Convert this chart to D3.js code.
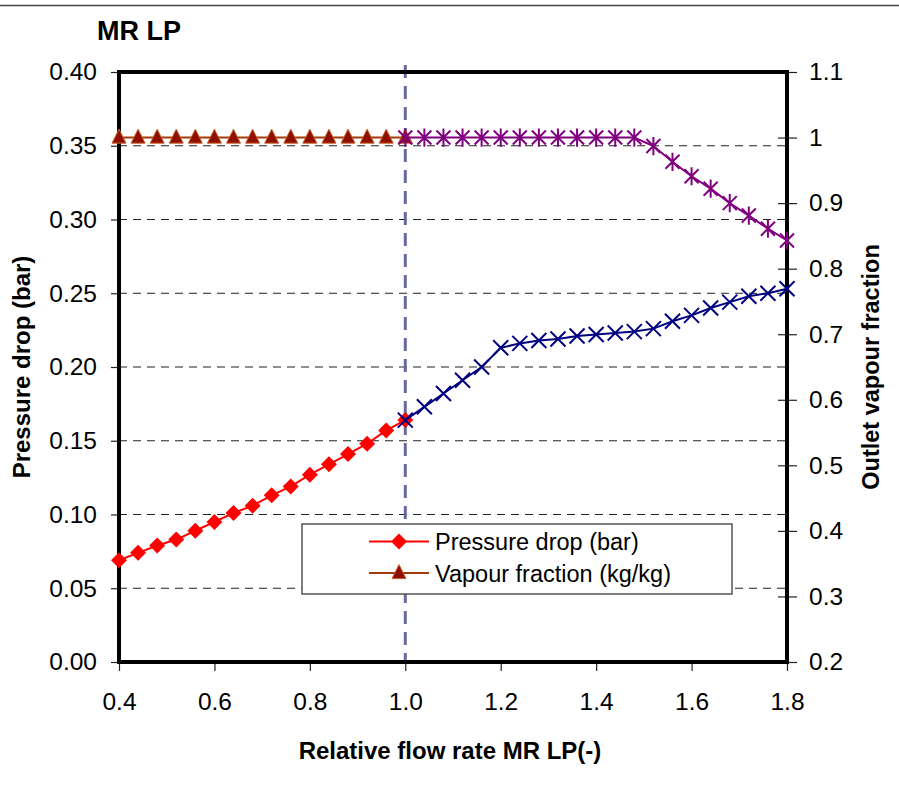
<!DOCTYPE html>
<html>
<head>
<meta charset="utf-8">
<script src="https://cdn.jsdelivr.net/npm/d3@7"></script>
<style>
  html, body { margin: 0; padding: 0; background: #fff; }
  svg { display: block; font-family: "Liberation Sans", Arial, sans-serif; }
</style>
</head>
<body>
<svg id="chart" width="899" height="786"></svg>
<script>
// Relative flow rate, lower branch (up to design point) and upper branch
const flowLow  = [0.40, 0.44, 0.48, 0.52, 0.56, 0.60, 0.64, 0.68, 0.72, 0.76, 0.80, 0.84, 0.88, 0.92, 0.96, 1.00];
const flowHigh = [1.00, 1.04, 1.08, 1.12, 1.16, 1.20, 1.24, 1.28, 1.32, 1.36, 1.40, 1.44, 1.48, 1.52, 1.56, 1.60, 1.64, 1.68, 1.72, 1.76, 1.80];

// Pressure drop (bar)
const pressureLow  = [0.069, 0.074, 0.079, 0.083, 0.089, 0.095, 0.101, 0.106, 0.113, 0.119, 0.127, 0.134, 0.141, 0.148, 0.157, 0.164];
const pressureHigh = [0.164, 0.173, 0.182, 0.191, 0.200, 0.213, 0.216, 0.218, 0.219, 0.221, 0.222, 0.223, 0.224, 0.226, 0.231, 0.235, 0.240, 0.244, 0.248, 0.250, 0.253];

// Outlet vapour fraction (kg/kg)
const vapourLow  = [1, 1, 1, 1, 1, 1, 1, 1, 1, 1, 1, 1, 1, 1, 1, 1];
const vapourHigh = [1, 1, 1, 1, 1, 1, 1, 1, 1, 1, 1, 1, 1, 0.987, 0.963, 0.941, 0.922, 0.900, 0.881, 0.861, 0.843];

// Axis ticks
const xTicks = [0.4, 0.6, 0.8, 1.0, 1.2, 1.4, 1.6, 1.8];
const xTickLabels = ["0.4", "0.6", "0.8", "1.0", "1.2", "1.4", "1.6", "1.8"];
const leftTicks = [0.00, 0.05, 0.10, 0.15, 0.20, 0.25, 0.30, 0.35, 0.40];
const leftTickLabels = ["0.00", "0.05", "0.10", "0.15", "0.20", "0.25", "0.30", "0.35", "0.40"];
const rightTicks = [0.2, 0.3, 0.4, 0.5, 0.6, 0.7, 0.8, 0.9, 1.0, 1.1];
const rightTickLabels = ["0.2", "0.3", "0.4", "0.5", "0.6", "0.7", "0.8", "0.9", "1", "1.1"];
const designFlow = 1.0;

const legendItems = ["Pressure drop (bar)", "Vapour fraction (kg/kg)"];

const svg = d3.select("#chart");
const L = 119, R = 787, T = 72, B = 662;

const x  = d3.scaleLinear().domain([0.4, 1.8]).range([L, R]);
const yL = d3.scaleLinear().domain([0, 0.4]).range([B, T]);
const yR = d3.scaleLinear().domain([0.2, 1.1]).range([B, T]);

// top rule across the figure
svg.append("line").attr("x1", 0).attr("x2", 899).attr("y1", 5.5).attr("y2", 5.5)
  .attr("stroke", "#444").attr("stroke-width", 1.5);

// title
svg.append("text").attr("x", 97).attr("y", 40)
  .attr("font-size", 27).attr("font-weight", "bold").text("MR LP");

// horizontal dashed gridlines
svg.append("g").selectAll("line")
  .data(leftTicks.filter(v => v > 0 && v < 0.4))
  .join("line")
  .attr("x1", L).attr("x2", R)
  .attr("y1", d => yL(d)).attr("y2", d => yL(d))
  .attr("stroke", "#222").attr("stroke-width", 1.1)
  .attr("stroke-dasharray", "8,6");

// axes
const fmtFrom = (ticks, labels) => d => labels[ticks.indexOf(d)];

const gLeft = svg.append("g").attr("transform", `translate(${L},0)`)
  .call(d3.axisLeft(yL).tickValues(leftTicks).tickSize(8).tickPadding(14)
    .tickFormat(fmtFrom(leftTicks, leftTickLabels)));

const gRight = svg.append("g").attr("transform", `translate(${R},0)`)
  .call(d3.axisRight(yR).tickValues(rightTicks).tickSize(10).tickPadding(12)
    .tickFormat(fmtFrom(rightTicks, rightTickLabels)));
gRight.selectAll(".tick").append("line")
  .attr("x1", -9).attr("x2", 0).attr("stroke", "#000");

const gBottom = svg.append("g").attr("transform", `translate(0,${B})`)
  .call(d3.axisBottom(x).tickValues(xTicks).tickSize(9).tickPadding(22)
    .tickFormat(fmtFrom(xTicks, xTickLabels)));

[gLeft, gRight, gBottom].forEach(g => {
  g.select(".domain").remove();
  g.selectAll(".tick line").attr("stroke", "#222").attr("stroke-width", 1.2);
  g.selectAll(".tick text").attr("font-size", 24.5).attr("fill", "#000")
    .style("font-family", "'Liberation Sans', Arial, sans-serif");
});

// design-point marker line
svg.append("line")
  .attr("x1", x(designFlow)).attr("x2", x(designFlow))
  .attr("y1", T - 7).attr("y2", B)
  .attr("stroke", "#6868a0").attr("stroke-width", 3)
  .attr("stroke-dasharray", "13,8");

// plot frame
svg.append("rect").attr("x", L).attr("y", T)
  .attr("width", R - L).attr("height", B - T)
  .attr("fill", "none").attr("stroke", "#000").attr("stroke-width", 4);

// axis titles
svg.append("text")
  .attr("transform", `translate(30,${(T + B) / 2}) rotate(-90)`)
  .attr("text-anchor", "middle").attr("font-size", 24).attr("font-weight", "bold")
  .text("Pressure drop (bar)");
svg.append("text")
  .attr("transform", `translate(879,${(T + B) / 2}) rotate(-90)`)
  .attr("text-anchor", "middle").attr("font-size", 23.5).attr("font-weight", "bold")
  .text("Outlet vapour fraction");
svg.append("text")
  .attr("x", 450).attr("y", 759)
  .attr("text-anchor", "middle").attr("font-size", 24).attr("font-weight", "bold")
  .text("Relative flow rate MR LP(-)");

// marker shapes
const diamondPath = s => `M0,${-s}L${s},0L0,${s}L${-s},0Z`;
const trianglePath = (w, h) => `M0,${-h * 0.6}L${w / 2},${h * 0.4}L${-w / 2},${h * 0.4}Z`;
const crossPath = s => `M${-s},${-s}L${s},${s}M${-s},${s}L${s},${-s}`;
const starPath = s => `M${-s},${-s}L${s},${s}M${-s},${s}L${s},${-s}M0,${-s * 1.3}L0,${s * 1.3}`;

function drawSeries(xs, ys, yScale, color, width) {
  const pts = xs.map((v, i) => [x(v), yScale(ys[i])]);
  svg.append("path").datum(pts)
    .attr("d", d3.line())
    .attr("fill", "none").attr("stroke", color).attr("stroke-width", width);
  return pts;
}

// vapour fraction, lower branch (triangles)
const vLowPts = drawSeries(flowLow, vapourLow, yR, "#a33a0a", 2);
svg.append("g").selectAll("path").data(vLowPts).join("path")
  .attr("transform", d => `translate(${d[0]},${d[1]})`)
  .attr("d", trianglePath(14, 14))
  .attr("fill", "#8f0f00").attr("stroke", "#c8602a").attr("stroke-width", 1);

// vapour fraction, upper branch (asterisks)
const vHighPts = drawSeries(flowHigh, vapourHigh, yR, "#800080", 2);
svg.append("g").selectAll("path").data(vHighPts).join("path")
  .attr("transform", d => `translate(${d[0]},${d[1]})`)
  .attr("d", starPath(7))
  .attr("fill", "none").attr("stroke", "#800080").attr("stroke-width", 2);

// pressure drop, lower branch (diamonds)
const pLowPts = drawSeries(flowLow, pressureLow, yL, "#ff0000", 2);
svg.append("g").selectAll("path").data(pLowPts).join("path")
  .attr("transform", d => `translate(${d[0]},${d[1]})`)
  .attr("d", diamondPath(8))
  .attr("fill", "#ff0000");

// pressure drop, upper branch (crosses)
const pHighPts = drawSeries(flowHigh, pressureHigh, yL, "#000080", 2);
svg.append("g").selectAll("path").data(pHighPts).join("path")
  .attr("transform", d => `translate(${d[0]},${d[1]})`)
  .attr("d", crossPath(7.5))
  .attr("fill", "none").attr("stroke", "#000080").attr("stroke-width", 2);

// legend
const lg = svg.append("g");
lg.append("rect").attr("x", 302).attr("y", 524).attr("width", 430).attr("height", 70)
  .attr("fill", "#fff").attr("stroke", "#555").attr("stroke-width", 1.5);
const rowsY = [541.5, 573];
lg.append("line").attr("x1", 369).attr("x2", 429).attr("y1", rowsY[0]).attr("y2", rowsY[0])
  .attr("stroke", "#ff0000").attr("stroke-width", 2);
lg.append("path").attr("transform", `translate(399,${rowsY[0]})`)
  .attr("d", diamondPath(8)).attr("fill", "#ff0000");
lg.append("line").attr("x1", 369).attr("x2", 429).attr("y1", rowsY[1]).attr("y2", rowsY[1])
  .attr("stroke", "#a33a0a").attr("stroke-width", 2);
lg.append("path").attr("transform", `translate(399,${rowsY[1]})`)
  .attr("d", trianglePath(14, 14)).attr("fill", "#8f0f00").attr("stroke", "#c8602a").attr("stroke-width", 1);
lg.selectAll("text").data(legendItems).join("text")
  .attr("x", 435).attr("y", (d, i) => rowsY[i] + 8.5)
  .attr("font-size", 23.5).text(d => d);
</script>
</body>
</html>
